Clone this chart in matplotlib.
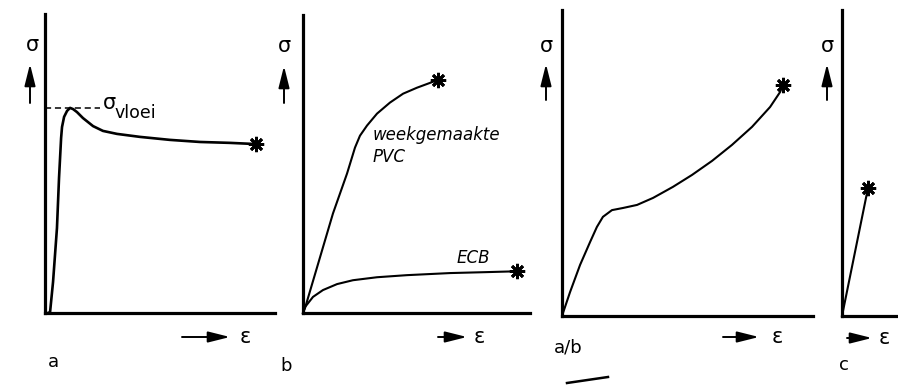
import matplotlib
matplotlib.use("Agg")
import matplotlib.pyplot as plt
from matplotlib.patches import FancyArrowPatch
from matplotlib.lines import Line2D

plt.rcParams['font.family'] = ['DejaVu Sans']

# ---- data (schematic stress-strain curves, normalised 0..100) ----
a_strain = [1.3, 2.2, 3.5, 5.2, 6.1, 7.0, 7.4, 8.3, 9.6, 10.9, 12.2, 13.9, 16.5, 20.9, 25.2, 31.3,
            41.3, 54.3, 67.4, 80.4, 91.7]
a_stress = [0, 0.3, 10.4, 28.4, 45.2, 58.5, 62.2, 65.6, 67.6, 68.6, 68.2, 67.2, 65.2, 62.5, 60.9, 59.9,
            58.9, 57.9, 57.2, 56.9, 56.5]
a_yield = 68.6

b_pvc_strain = [0, 0.9, 7.5, 13.2, 19.4, 22.9, 25.1, 28.2, 32.6, 38.3, 44.1, 50.2, 57.3, 59.5]
b_pvc_stress = [0, 1.7, 18.7, 33.4, 46.8, 55.5, 59.5, 62.9, 66.9, 70.6, 73.6, 75.6, 77.6, 78.3]
b_ecb_strain = [0, 0.9, 4.4, 8.8, 15.0, 22.0, 32.6, 45.8, 64.8, 80.0, 94.3]
b_ecb_stress = [0, 2.0, 5.4, 7.7, 9.7, 11.0, 12.0, 12.7, 13.4, 13.7, 14.0]

ab_strain = [0.4, 3.2, 7.2, 11.2, 13.9, 16.3, 19.9, 24.3, 29.9, 36.3, 44.2, 51.8, 59.8, 67.7, 75.7,
             82.9, 86.9, 88.0]
ab_stress = [1.0, 7.8, 16.7, 24.2, 29.1, 32.4, 34.6, 35.3, 36.3, 38.6, 42.2, 46.1, 50.7, 55.9, 61.8,
             68.3, 73.2, 75.5]

c_strain = [0, 46.4]
c_stress = [0, 41.8]

panel_labels = ['a', 'b', 'a/b', 'c']
label_pvc = 'weekgemaakte\nPVC'
label_ecb = 'ECB'
label_sigma = 'σ'
label_vloei = 'vloei'
label_eps = 'ε'

W, H = 898, 389
fig = plt.figure(figsize=(W / 100, H / 100), dpi=100)
fig.patch.set_facecolor('white')


def fx(x):
    return x / W


def fy(y):
    return 1 - y / H


def make_ax(left, right, top, bottom):
    ax = fig.add_axes([fx(left), fy(bottom), (right - left) / W, (bottom - top) / H])
    ax.set_xlim(0, 100)
    ax.set_ylim(0, 100)
    for s in ['top', 'right']:
        ax.spines[s].set_visible(False)
    for s in ['left', 'bottom']:
        ax.spines[s].set_linewidth(2.3)
        ax.spines[s].set_color('black')
        ax.spines[s].set_capstyle('projecting')
    ax.set_xticks([])
    ax.set_yticks([])
    ax.patch.set_alpha(0)
    return ax


def arrow(x0, y0, x1, y1):
    p = FancyArrowPatch((fx(x0), fy(y0)), (fx(x1), fy(y1)), transform=fig.transFigure,
                        arrowstyle='-|>,head_length=1.2,head_width=0.3', mutation_scale=11,
                        lw=1.4, color='black', shrinkA=0, shrinkB=0)
    fig.add_artist(p)


def axis_labels(sx, sy, ax0, ay0, ay1, ex0, ex1, ey, etx, plx, ply, plabel):
    fig.text(fx(sx), fy(sy), label_sigma, fontsize=15, ha='center', va='center')
    arrow(ax0, ay0, ax0, ay1)
    arrow(ex0, ey, ex1, ey)
    fig.text(fx(etx), fy(ey), label_eps, fontsize=15, ha='center', va='center')
    fig.text(fx(plx), fy(ply), plabel, fontsize=13, ha='center', va='center')


star = dict(marker=(8, 2, 0), markersize=11, markeredgewidth=2, color='black', clip_on=False)

# Panel a
ax_a = make_ax(45, 275, 14, 313)
ax_a.plot(a_strain, a_stress, color='black', lw=1.9, clip_on=False, solid_joinstyle='round')
ax_a.plot([a_strain[-1]], [a_stress[-1]], **star)
ax_a.plot([0, 24], [a_yield, a_yield], color='black', lw=1.1, dashes=(4, 2.5), clip_on=False)
ax_a.text(25.0, 70.3, label_sigma, fontsize=15, ha='left', va='center')
ax_a.text(30.2, 66.9, label_vloei, fontsize=12.5, ha='left', va='center')
axis_labels(32, 45, 30, 103, 64, 182, 230, 337, 245, 53, 362, panel_labels[0])

# Panel b
ax_b = make_ax(303, 530, 15, 313)
ax_b.plot(b_pvc_strain, b_pvc_stress, color='black', lw=1.5, clip_on=False, solid_joinstyle='round')
ax_b.plot([b_pvc_strain[-1]], [b_pvc_stress[-1]], **star)
ax_b.plot(b_ecb_strain, b_ecb_stress, color='black', lw=1.5, clip_on=False, solid_joinstyle='round')
ax_b.plot([b_ecb_strain[-1]], [b_ecb_stress[-1]], **star)
ax_b.text(30.5, 56, label_pvc, fontsize=12, style='italic', ha='left', va='center', linespacing=1.3)
ax_b.text(67.5, 18.4, label_ecb, fontsize=12, style='italic', ha='left', va='center')
axis_labels(284, 46, 284, 103, 66, 438, 467, 337, 479, 286, 366, panel_labels[1])

# Panel a/b
ax_ab = make_ax(562, 813, 10, 316)
ax_ab.plot(ab_strain, ab_stress, color='black', lw=1.5, clip_on=False, solid_joinstyle='round')
ax_ab.plot([ab_strain[-1]], [ab_stress[-1]], **star)
axis_labels(546, 46, 546, 100, 64, 723, 759, 337, 777, 568, 348, panel_labels[2])
fig.add_artist(Line2D([fx(567), fx(608)], [fy(383), fy(377)], transform=fig.transFigure,
                      color='black', lw=1.8))

# Panel c
ax_c = make_ax(842, 898, 10, 316)
ax_c.plot(c_strain, c_stress, color='black', lw=1.5, clip_on=False)
ax_c.plot([c_strain[-1]], [c_stress[-1]], **star)
axis_labels(827, 46, 827, 100, 64, 847, 872, 338, 884, 844, 365, panel_labels[3])

fig.savefig('out.png', dpi=100, facecolor='white')
